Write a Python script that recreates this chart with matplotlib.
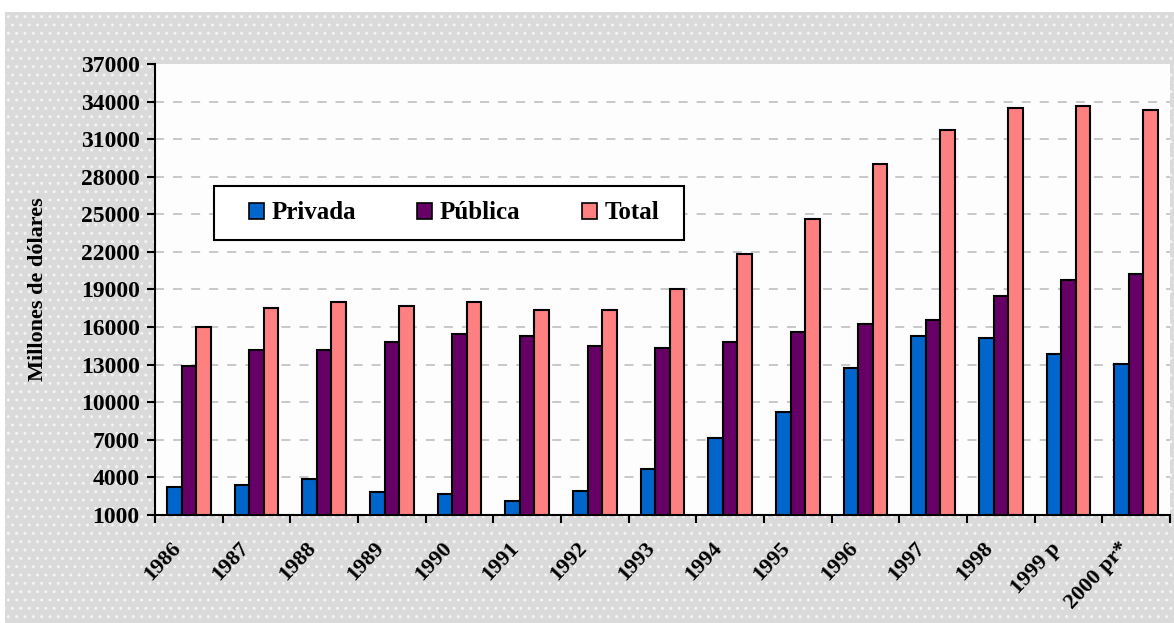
import matplotlib
matplotlib.use("Agg")
import matplotlib.pyplot as plt
from matplotlib.patches import Rectangle, Patch
import numpy as np

years = ["1986", "1987", "1988", "1989", "1990", "1991", "1992", "1993",
         "1994", "1995", "1996", "1997", "1998", "1999 p", "2000 pr*"]
privada = [3250, 3400, 3900, 2800, 2650, 2150, 2950, 4700, 7150, 9200,
           12700, 15300, 15100, 13850, 13050]
publica = [12900, 14200, 14200, 14800, 15450, 15300, 14500, 14300, 14800, 15600,
           16250, 16550, 18500, 19750, 20200]
total = [16000, 17500, 18000, 17700, 18000, 17400, 17400, 19000, 21800, 24650,
         29000, 31700, 33500, 33650, 33300]
series_names = ["Privada", "Pública", "Total"]
colors = ["#0066cc", "#660066", "#ff8080"]
yticks = list(range(1000, 37001, 3000))

plt.rcParams['font.family'] = ['Liberation Serif', 'DejaVu Serif']

W, H = 1174, 623
fig = plt.figure(figsize=(W / 100, H / 100), dpi=100)
fig.patch.set_facecolor("white")
bg = Rectangle((5 / W, 0), 1 - 5 / W, 1 - 12 / H, transform=fig.transFigure,
               facecolor="#dadada", edgecolor="#f4f4f4", hatch="..", linewidth=0, zorder=-10)
fig.patches.append(bg)

ax_l, ax_r, ax_t, ax_b = 155, 1170, 64, 515
ax = fig.add_axes([ax_l / W, 1 - ax_b / H, (ax_r - ax_l) / W, (ax_b - ax_t) / H])
ax.set_facecolor("#fdfdfd")

x = np.arange(len(years))
w = 0.215
for k, (vals, c) in enumerate(zip([privada, publica, total], colors)):
    ax.bar(x + (k - 1) * w, np.array(vals) - 1000, bottom=1000, width=w, color=c,
           edgecolor="black", linewidth=1.5, zorder=3)

ax.set_xlim(-0.5, len(years) - 0.5)
ax.set_ylim(1000, 37000)
ax.set_yticks(yticks)
ax.set_yticklabels([str(v) for v in yticks], fontsize=17, fontweight="bold")
for v in yticks[1:-1]:
    ax.axhline(v, color="#c4c4c4", linestyle=(0, (5, 5)), linewidth=1.3, zorder=1)

ax.set_xticks(np.arange(-0.5, len(years), 1.0))
ax.set_xticklabels([])
ax.tick_params(axis="x", direction="out", length=6, width=1.5)
ax.tick_params(axis="y", direction="out", length=6, width=1.5, pad=5)
ax.set_xticks(x - 0.27, minor=True)
ax.set_xticklabels(years, minor=True, rotation=47, ha="right", va="top",
                   rotation_mode="anchor", fontsize=16, fontweight="bold")
ax.tick_params(axis="x", which="minor", length=0, pad=17)

for s in ["top", "right"]:
    ax.spines[s].set_visible(False)
for s in ["left", "bottom"]:
    ax.spines[s].set_linewidth(1.5)

ax.set_ylabel("Millones de dólares", fontsize=16, fontweight="bold", labelpad=24)

# legend frame drawn as a box in axes coordinates
def ax_frac(px, py):
    return (px - ax_l) / (ax_r - ax_l), (ax_b - py) / (ax_b - ax_t)

x0, y0 = ax_frac(214, 240)
x1, y1 = ax_frac(684, 186)
ax.add_patch(Rectangle((x0, y0), x1 - x0, y1 - y0, transform=ax.transAxes,
                       facecolor="white", edgecolor="black", linewidth=1.5, zorder=5))

handles = [Patch(facecolor=c, edgecolor="black", linewidth=1.2) for c in colors]
lx, ly = ax_frac(249, 213)
leg = ax.legend(handles, series_names, ncol=3, loc="center left",
                bbox_to_anchor=(lx, ly),
                prop={"family": "Liberation Serif", "weight": "bold", "size": 18},
                frameon=False,
                handlelength=0.6, handleheight=0.6, handletextpad=0.3,
                columnspacing=2.45, borderpad=0, borderaxespad=0)
leg.set_zorder(6)

fig.savefig("out.png", dpi=100)
